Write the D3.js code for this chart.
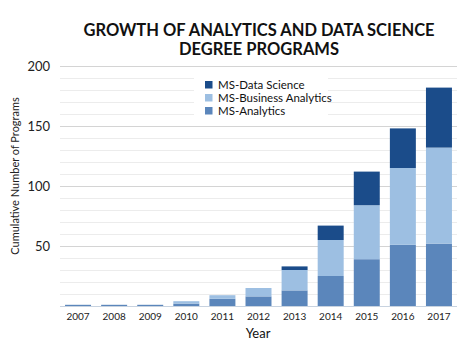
<!DOCTYPE html>
<html>
<head>
<meta charset="utf-8">
<script src="https://cdn.jsdelivr.net/npm/d3@7"></script>
<style>
html,body{margin:0;padding:0;background:#fff;}
svg{display:block;font-family:Lato,"Open Sans",sans-serif;}
</style>
</head>
<body>
<svg id="chart" width="474" height="355"></svg>
<script>
const years = ["2007","2008","2009","2010","2011","2012","2013","2014","2015","2016","2017"];
const msAnalytics = [1,1,1,2,6,8,13,25,39,51,52];
const msBusinessAnalytics = [0,0,0,2,3,7,17,30,45,64,80];
const msDataScience = [0,0,0,0,0,0,3,12,28,33,50];
const seriesNames = ["MS-Analytics","MS-Business Analytics","MS-Data Science"];
const seriesColors = ["#5b86bb","#9dbfe2","#1b4c8a"];
const yTicks = [50,100,150,200];

const svg = d3.select("#chart");
const m = {left:60, right:17, top:66, bottom:49};
const W = 474, H = 355;
const x = d3.scaleBand().domain(years).range([m.left, W - m.right]).paddingInner(0.28).paddingOuter(0.14);
const y = d3.scaleLinear().domain([0,200]).range([H - m.bottom, m.top]);

// minor gridlines
svg.append("g").selectAll("line").data(d3.range(10,200,10).filter(v=>v%50!==0)).join("line")
  .attr("x1", m.left).attr("x2", W - m.right)
  .attr("y1", d=>y(d)+0.5).attr("y2", d=>y(d)+0.5)
  .attr("stroke","#ececec").attr("stroke-width",1);
// major gridlines
svg.append("g").selectAll("line").data(yTicks).join("line")
  .attr("x1", m.left).attr("x2", W - m.right)
  .attr("y1", d=>y(d)+0.5).attr("y2", d=>y(d)+0.5)
  .attr("stroke","#d4d4d4").attr("stroke-width",1.2);

// y axis labels
const yAxis = d3.axisLeft(y).tickValues(yTicks).tickSize(0).tickPadding(10);
const gy = svg.append("g").attr("transform",`translate(${m.left},0)`).call(yAxis);
gy.select(".domain").remove();
gy.selectAll("text").attr("font-size",13).attr("fill","#222").attr("font-family","Lato,sans-serif");

// stacked data
const table = years.map((yr,i)=>({year:yr, "MS-Analytics":msAnalytics[i], "MS-Business Analytics":msBusinessAnalytics[i], "MS-Data Science":msDataScience[i]}));
const stack = d3.stack().keys(seriesNames)(table);
svg.append("g").selectAll("g").data(stack).join("g")
  .attr("fill",(d,i)=>seriesColors[i])
  .selectAll("rect").data(d=>d).join("rect")
  .attr("x", d=>x(d.data.year))
  .attr("width", x.bandwidth())
  .attr("y", d=>y(d[1]))
  .attr("height", d=>Math.max(0, y(d[0]) - y(d[1])));

// baseline
svg.append("line").attr("x1",m.left).attr("x2",W-m.right)
  .attr("y1",y(0)+0.5).attr("y2",y(0)+0.5).attr("stroke","#c8d3e0").attr("stroke-width",1);

// x axis
const xAxis = d3.axisBottom(x).tickSize(0).tickPadding(7);
const gx = svg.append("g").attr("transform",`translate(0,${y(0)})`).call(xAxis);
gx.select(".domain").remove();
gx.selectAll("text").attr("font-size",10).attr("fill","#222").attr("font-family","Lato,sans-serif");

// axis titles
svg.append("text").attr("x", 258).attr("y", 338).attr("text-anchor","middle")
  .attr("font-size",13).attr("fill","#111").text("Year");
svg.append("text").attr("transform",`translate(19,176) rotate(-90)`).attr("text-anchor","middle")
  .attr("font-size",11).attr("fill","#222").text("Cumulative Number of Programs");

// title
const title = svg.append("text").attr("text-anchor","middle").attr("font-weight","bold")
  .attr("font-size",16.5).attr("fill","#111");
title.append("tspan").attr("x",259).attr("y",36).text("GROWTH OF ANALYTICS AND DATA SCIENCE");
title.append("tspan").attr("x",259).attr("y",55).text("DEGREE PROGRAMS");

// legend
const legendOrder = [2,1,0];
const lg = svg.append("g");
lg.append("rect").attr("x",194).attr("y",74).attr("width",134).attr("height",50).attr("fill","#fff");
legendOrder.forEach((si,j)=>{
  const yy = 81 + j*13;
  lg.append("rect").attr("x",205).attr("y",yy).attr("width",7.5).attr("height",7.5).attr("fill",seriesColors[si]);
  lg.append("text").attr("x",218).attr("y",yy+7.5).attr("font-size",11.5).attr("fill","#111").text(seriesNames[si]);
});
</script>
</body>
</html>
